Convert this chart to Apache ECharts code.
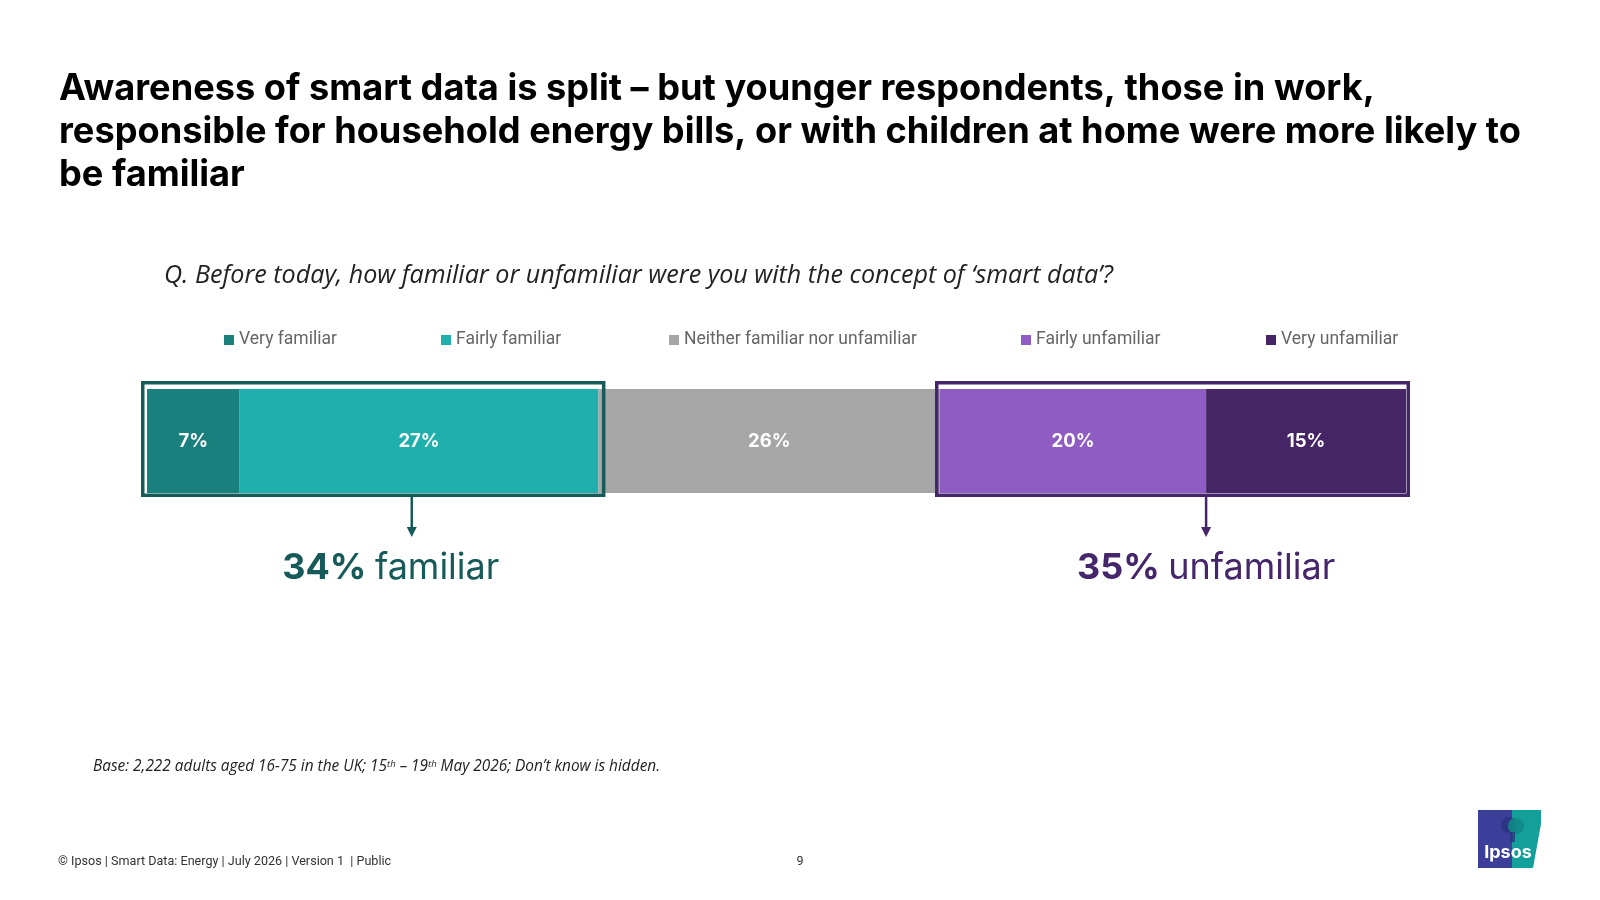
<!DOCTYPE html>
<html>
<head>
<meta charset="utf-8">
<script src="https://cdn.jsdelivr.net/npm/echarts@6/dist/echarts.min.js"></script>
<style>
  html, body { margin: 0; padding: 0; background: #fff; }
  #chart { width: 1600px; height: 900px; }
</style>
</head>
<body>
<div id="chart"></div>
<script>
// data (Don't know hidden, so it sums to ~95)
var categories = ['Very familiar', 'Fairly familiar', 'Neither familiar nor unfamiliar', 'Fairly unfamiliar', 'Very unfamiliar'];
var values = [7.0, 27.1, 25.8, 20.1, 15.1];
var valueLabels = ['7%', '27%', '26%', '20%', '15%'];
var netValues = ['34%', '35%'];
var netNames = ['familiar', 'unfamiliar'];
var colors = ['#1a807e', '#1fafad', '#a6a6a6', '#8e5cc2', '#452566'];

var FONT = 'Roboto, "Noto Sans", sans-serif';
var BOLD = 'Inter, Roboto, sans-serif';
var ITAL = '"Open Sans", Roboto, sans-serif';
var total = values.reduce(function (a, b) { return a + b; }, 0);

var chart = echarts.init(document.getElementById('chart'));

var legendLeft = [219, 436, 664, 1016, 1261];

var series = categories.map(function (name, i) {
  return {
    name: name,
    type: 'bar',
    stack: 'all',
    barWidth: '100%',
    data: [values[i]],
    itemStyle: { color: colors[i] },
    label: {
      show: true,
      position: 'inside',
      color: '#fff',
      fontFamily: BOLD,
      fontWeight: 'bold',
      fontSize: 18.5,
      formatter: function () { return valueLabels[i]; }
    },
    emphasis: { disabled: true }
  };
});

var option = {
  animation: false,
  color: colors,
  title: [
    {
      text: 'Awareness of smart data is split \u2013 but younger respondents, those in work,\nresponsible for household energy bills, or with children at home were more likely to\nbe familiar',
      left: 54,
      top: 62,
      textStyle: { fontFamily: BOLD, fontWeight: 'bold', fontSize: 36.2, lineHeight: 43.3, color: '#000' }
    },
    {
      text: 'Q. Before today, how familiar or unfamiliar were you with the concept of \u2018smart data\u2019?',
      left: 159,
      top: 258,
      textStyle: { fontFamily: ITAL, fontStyle: 'italic', fontWeight: 'normal', fontSize: 25.1, color: '#222' }
    }
  ],
  legend: categories.map(function (name, i) {
    return {
      data: [name],
      left: legendLeft[i],
      top: 326,
      icon: 'rect',
      itemWidth: 10,
      itemHeight: 10,
      selectedMode: false,
      textStyle: { fontFamily: FONT, fontSize: 17.5, color: '#666' }
    };
  }),
  grid: { left: 147, right: 194, top: 389, height: 104, containLabel: false },
  xAxis: { type: 'value', min: 0, max: total, show: false },
  yAxis: { type: 'category', data: ['Q'], show: false },
  series: series
};

chart.setOption(option);

// outline boxes, arrows and net figures placed from the drawn bars
function seg(i) {
  var l = chart.getModel().getSeriesByIndex(i).getData().getItemLayout(0);
  return {
    x0: Math.min(l.x, l.x + l.width), x1: Math.max(l.x, l.x + l.width),
    y0: Math.min(l.y, l.y + l.height), y1: Math.max(l.y, l.y + l.height)
  };
}
var groups = [
  { from: 0, to: 1, color: '#165b59', pad: [6, 7] },
  { from: 3, to: 4, color: '#45266b', pad: [5, 4] }
];
var graphics = [];
groups.forEach(function (g, k) {
  var a = seg(g.from), b = seg(g.to);
  var x0 = a.x0 - g.pad[0], x1 = b.x1 + g.pad[1], y0 = a.y0 - 8, y1 = a.y1 + 4;
  var sw = 3.5;
  graphics.push({
    type: 'rect',
    shape: { x: x0 + sw / 2, y: y0 + sw / 2, width: x1 - x0 - sw, height: y1 - y0 - sw },
    style: { fill: 'transparent', stroke: g.color, lineWidth: sw },
    z: 10
  });
  // arrow: teal one sits inside the 27% block, purple one on the segment join
  var ax = k === 0 ? x0 + (x1 - x0) * 0.583 : b.x0;
  var tx = k === 0 ? ax - 21 : ax;
  graphics.push({
    type: 'line',
    shape: { x1: ax, y1: y1, x2: ax, y2: y1 + 32 },
    style: { stroke: g.color, lineWidth: 2.5 },
    z: 10
  });
  graphics.push({
    type: 'polygon',
    shape: { points: [[ax - 5, y1 + 30], [ax + 5, y1 + 30], [ax, y1 + 40]] },
    style: { fill: g.color },
    z: 10
  });
  graphics.push({
    type: 'text',
    x: tx,
    y: 568,
    style: {
      text: '{b|' + netValues[k] + ' }{n|' + netNames[k] + '}',
      align: 'center',
      verticalAlign: 'middle',
      rich: {
        b: { fontFamily: BOLD, fontWeight: 'bold', fontSize: 36, fill: g.color },
        n: { fontFamily: BOLD, fontWeight: 'normal', fontSize: 36, fill: g.color }
      }
    }
  });
});

// footnotes
graphics.push({
  type: 'text',
  x: 93, y: 767,
  style: {
    text: '{t|Base: 2,222 adults aged 16-75 in the UK; 15}{s|th}{t| \u2013 19}{s|th}{t| May 2026; Don\u2019t know is hidden.}',
    verticalAlign: 'middle',
    rich: {
      t: { fontFamily: ITAL, fontStyle: 'italic', fontSize: 15.4, fill: '#222' },
      s: { fontFamily: ITAL, fontStyle: 'italic', fontSize: 9.5, fill: '#222', verticalAlign: 'top', padding: [0, 0, 6, 0] }
    }
  }
});
graphics.push({
  type: 'text',
  x: 58, y: 862,
  style: { text: '\u00a9 Ipsos | Smart Data: Energy | July 2026 | Version 1  | Public', verticalAlign: 'middle', fontFamily: FONT, fontSize: 12.6, fill: '#333' }
});
graphics.push({
  type: 'text',
  x: 800, y: 862,
  style: { text: '9', align: 'center', verticalAlign: 'middle', fontFamily: FONT, fontSize: 12.6, fill: '#333' }
});

// Ipsos logo
graphics.push({
  type: 'group',
  x: 1478, y: 810,
  children: [
    { type: 'rect', shape: { x: 0, y: 0, width: 35, height: 58 }, style: { fill: '#3b3f99' } },
    { type: 'polygon', shape: { points: [[34, 0], [63, 0], [63, 14], [55, 58], [34, 58]] }, style: { fill: '#14a09a' } },
    { type: 'circle', shape: { cx: 31, cy: 15, r: 8 }, style: { fill: '#2a3280', opacity: 0.8 } },
    { type: 'circle', shape: { cx: 38, cy: 16, r: 8 }, style: { fill: '#0f8a86', opacity: 0.9 } },
    { type: 'rect', shape: { x: 32, y: 22, width: 5, height: 10 }, style: { fill: '#2a3280', opacity: 0.8 } },
    { type: 'text', x: 30, y: 43, style: { text: 'Ipsos', align: 'center', verticalAlign: 'middle', fontFamily: BOLD, fontWeight: 'bold', fontSize: 18, fill: '#fff' } }
  ]
});

chart.setOption({ graphic: graphics });
</script>
</body>
</html>
